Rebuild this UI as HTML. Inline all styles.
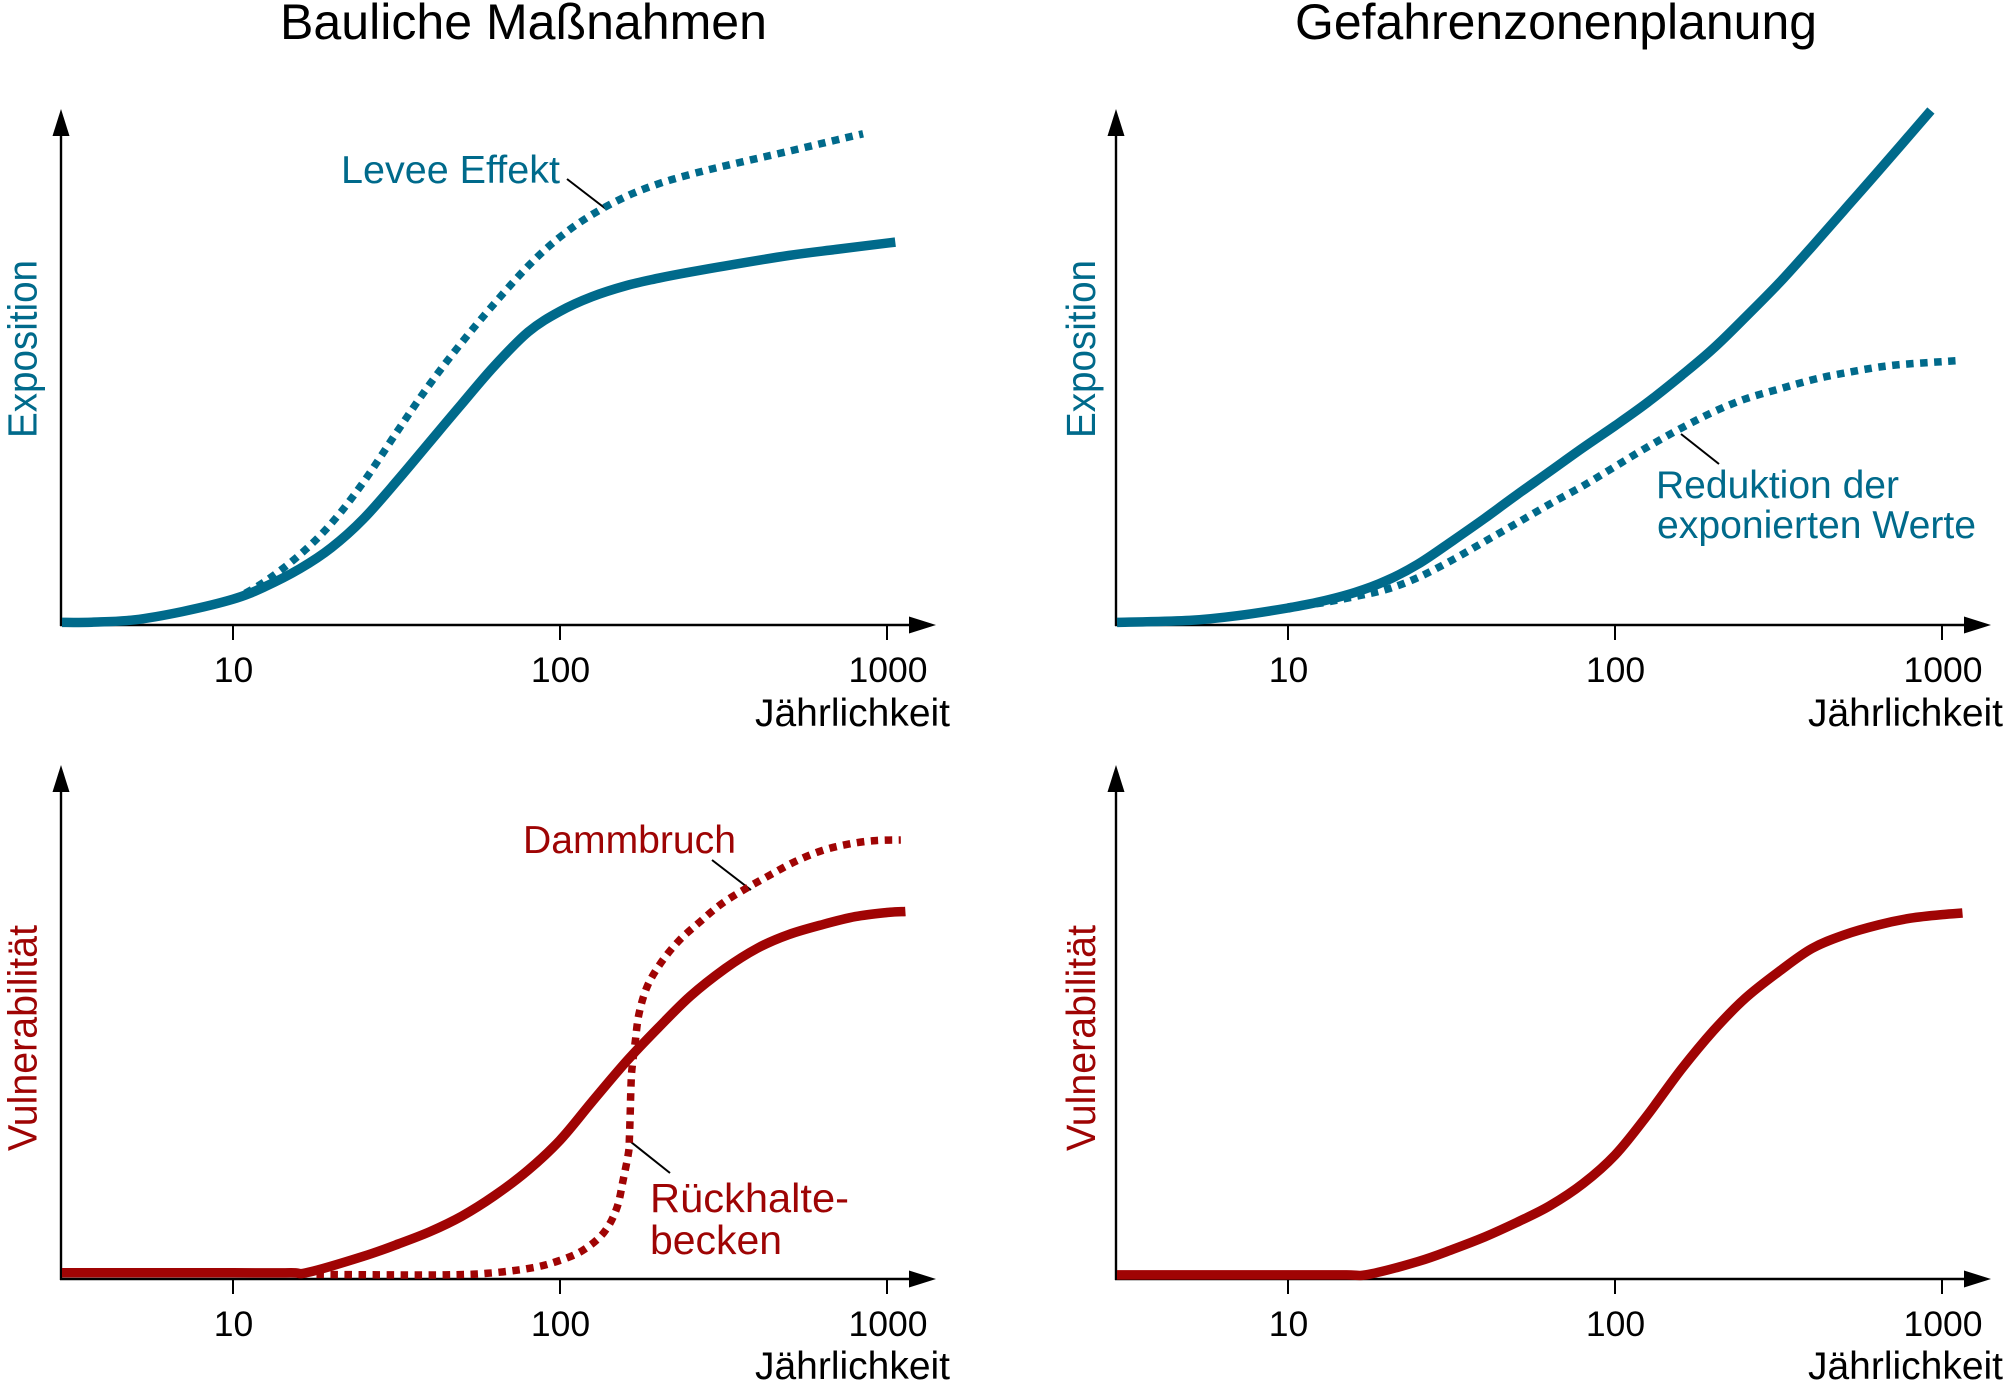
<!DOCTYPE html>
<html lang="de">
<head>
<meta charset="utf-8">
<title>Bauliche Maßnahmen und Gefahrenzonenplanung</title>
<style>
  html, body { margin: 0; padding: 0; background: #fff; }
  svg { display: block; }
  text { font-family: "Liberation Sans", sans-serif; }
  .title { font-size: 50px; fill: #000; }
  .tick { font-size: 35.5px; fill: #000; text-anchor: middle; }
  .xlab { font-size: 39px; fill: #000; }
  .teal { fill: #006a8b; font-size: 39px; }
  .red { fill: #9e0404; font-size: 39px; }
  .big { font-size: 41px; }
  .leader { stroke: #000; stroke-width: 2; fill: none; }
</style>
</head>
<body>
<svg id="chart" width="2008" height="1387" viewBox="0 0 2008 1387" xmlns="http://www.w3.org/2000/svg">
  <text class="title" x="280" y="39" textLength="487" lengthAdjust="spacingAndGlyphs">Bauliche Maßnahmen</text>
  <text class="title" x="1295" y="39" textLength="522" lengthAdjust="spacingAndGlyphs">Gefahrenzonenplanung</text>

  <text class="teal big" transform="translate(36.5,438) rotate(-90)" textLength="178" lengthAdjust="spacingAndGlyphs">Exposition</text>
  <text class="teal big" transform="translate(1095,438) rotate(-90)" textLength="178" lengthAdjust="spacingAndGlyphs">Exposition</text>
  <text class="red big" transform="translate(36.5,1151) rotate(-90)" textLength="226" lengthAdjust="spacingAndGlyphs">Vulnerabilität</text>
  <text class="red big" transform="translate(1095,1151) rotate(-90)" textLength="226" lengthAdjust="spacingAndGlyphs">Vulnerabilität</text>

  <text class="xlab" x="755" y="726" textLength="195" lengthAdjust="spacingAndGlyphs">Jährlichkeit</text>
  <text class="xlab" x="1808" y="726" textLength="195" lengthAdjust="spacingAndGlyphs">Jährlichkeit</text>
  <text class="xlab" x="755" y="1379" textLength="195" lengthAdjust="spacingAndGlyphs">Jährlichkeit</text>
  <text class="xlab" x="1808" y="1379" textLength="195" lengthAdjust="spacingAndGlyphs">Jährlichkeit</text>

  <text class="teal" x="341" y="183" textLength="219" lengthAdjust="spacingAndGlyphs">Levee Effekt</text>
  <text class="teal" x="1656" y="498" textLength="243" lengthAdjust="spacingAndGlyphs">Reduktion der</text>
  <text class="teal" x="1657" y="538" textLength="319" lengthAdjust="spacingAndGlyphs">exponierten Werte</text>
  <text class="red" x="523" y="853" textLength="213" lengthAdjust="spacingAndGlyphs">Dammbruch</text>
  <text class="red big" x="650" y="1212" textLength="199" lengthAdjust="spacingAndGlyphs">Rückhalte-</text>
  <text class="red big" x="650" y="1254" textLength="132" lengthAdjust="spacingAndGlyphs">becken</text>

  <line class="leader" x1="567" y1="179" x2="606" y2="209"/>
  <line class="leader" x1="1681" y1="434" x2="1719" y2="464"/>
  <line class="leader" x1="712" y1="860" x2="751" y2="890"/>
  <line class="leader" x1="631" y1="1142" x2="670" y2="1173"/>
</svg>
<script>
const tickValues = [10, 100, 1000];
const tickLabels = ["10", "100", "1000"];

// Top-left: Exposition, Bauliche Maßnahmen
const exposureBaseT = [3, 3.7, 5, 7, 10, 12.5, 16, 20, 25, 32, 40, 50, 63, 80, 100, 125, 160, 200, 250, 320, 500, 700, 1060];
const exposureBaseV = [0.5, 0.55, 1.0, 2.6, 5.0, 7.4, 10.9, 15, 20.5, 28.2, 35.5, 42.8, 50.2, 56.8, 60.8, 63.6, 65.8, 67.2, 68.4, 69.6, 71.6, 72.8, 74.2];
const leveeT = [10, 12.5, 16, 20, 25, 32, 40, 50, 63, 80, 100, 125, 160, 200, 250, 320, 500, 700, 845];
const leveeV = [4.85, 8.4, 13.6, 19.7, 27.6, 37.8, 46.7, 54.7, 62.3, 69.6, 75.2, 79.5, 83.1, 85.5, 87.3, 89, 91.8, 94, 95.2];

// Top-right: Exposition, Gefahrenzonenplanung
const exposureZoneT = [3, 5, 7, 10, 12.5, 16, 20, 25, 32, 40, 50, 63, 80, 100, 125, 160, 200, 250, 320, 400, 500, 640, 925];
const exposureZoneV = [0.5, 0.9, 1.8, 3.3, 4.5, 6.3, 8.6, 11.8, 16.4, 20.7, 25.2, 29.7, 34.4, 38.6, 43, 48.4, 53.6, 59.6, 66.5, 73.3, 80.3, 88, 99.7];
const reductionT = [10, 12.5, 16, 20, 25, 32, 40, 50, 63, 80, 100, 125, 160, 200, 250, 320, 400, 500, 700, 1100];
const reductionV = [3.5, 4.2, 5.5, 6.9, 9.2, 12.7, 16.2, 19.7, 23.4, 27, 30.7, 34.4, 38.2, 41.3, 43.8, 45.8, 47.5, 48.8, 50.3, 51.2];

// Bottom-left: Vulnerabilität, Bauliche Maßnahmen
const vulnBaseT = [3, 10, 15, 17, 25, 32, 40, 50, 63, 80, 100, 125, 160, 200, 250, 320, 400, 500, 640, 800, 1000, 1138];
const vulnBaseV = [1.2, 1.2, 1.2, 1.3, 4.4, 6.8, 9.2, 12.2, 16.2, 21.2, 27, 34.4, 42.4, 48.9, 55, 60.4, 64.3, 67, 69, 70.5, 71.3, 71.5];
const breachT = [18, 30, 44.5, 60, 81, 97.7, 117, 136, 149, 156, 162, 163, 164, 165, 166, 170, 174.5, 185, 204, 231, 268, 312, 371, 439, 523, 630, 760, 922, 1102];
const breachV = [0.9, 0.8, 0.8, 1.1, 2.1, 3.4, 5.5, 9, 13.7, 19.3, 24.6, 27.4, 32.8, 38.2, 41, 46.4, 51.7, 57, 61.6, 65.8, 69.5, 73, 76, 78.6, 81.2, 83.3, 84.6, 85.3, 85.4];

// Bottom-right: Vulnerabilität, Gefahrenzonenplanung
const vulnZoneT = [3, 10, 15, 17.6, 25, 32, 40, 50, 63, 80, 100, 125, 160, 200, 250, 320, 400, 500, 640, 800, 1000, 1155];
const vulnZoneV = [0.8, 0.8, 0.8, 0.9, 3.4, 5.8, 8.2, 11, 14.2, 18.6, 24.1, 31.7, 40.9, 48.3, 54.6, 60, 64.3, 66.9, 68.9, 70.2, 70.9, 71.2];

const NS = "http://www.w3.org/2000/svg";
const chart = document.getElementById("chart");
const TEAL = "#006a8b";
const RED = "#a00404";
const DECADE = 327;

function svgEl(tag) {
  return document.createElementNS(NS, tag);
}

function makePanel(left, tenX, axisY, topY, arrowX, labelY) {
  return {
    left, tenX, axisY, topY, arrowX, labelY,
    x: function (t) { return tenX + (Math.log10(t) - 1) * DECADE; },
    y: function (v) { return axisY - (v / 100) * (axisY - topY); }
  };
}

function smoothPath(pts) {
  let d = "M" + pts[0][0].toFixed(1) + "," + pts[0][1].toFixed(1);
  for (let i = 0; i < pts.length - 1; i++) {
    const p0 = pts[Math.max(i - 1, 0)];
    const p1 = pts[i];
    const p2 = pts[i + 1];
    const p3 = pts[Math.min(i + 2, pts.length - 1)];
    const c1x = p1[0] + (p2[0] - p0[0]) / 6;
    const c1y = p1[1] + (p2[1] - p0[1]) / 6;
    const c2x = p2[0] - (p3[0] - p1[0]) / 6;
    const c2y = p2[1] - (p3[1] - p1[1]) / 6;
    d += "C" + c1x.toFixed(1) + "," + c1y.toFixed(1) + " " + c2x.toFixed(1) + "," + c2y.toFixed(1) + " " + p2[0].toFixed(1) + "," + p2[1].toFixed(1);
  }
  return d;
}

function drawAxes(p, prefix) {
  const yAxis = svgEl("line");
  
  
  yAxis.setAttribute("x1", p.left); yAxis.setAttribute("x2", p.left);
  yAxis.setAttribute("y1", p.axisY + 1); yAxis.setAttribute("y2", p.topY + 20);
  yAxis.setAttribute("stroke", "#000"); yAxis.setAttribute("stroke-width", "2.4");
  chart.appendChild(yAxis);

  const yHead = svgEl("polygon");
  
  
  yHead.setAttribute("points", p.left + "," + p.topY + " " + (p.left - 8.5) + "," + (p.topY + 27) + " " + (p.left + 8.5) + "," + (p.topY + 27));
  yHead.setAttribute("fill", "#000");
  chart.appendChild(yHead);

  const xAxis = svgEl("line");
  
  
  xAxis.setAttribute("x1", p.left - 1); xAxis.setAttribute("x2", p.arrowX - 20);
  xAxis.setAttribute("y1", p.axisY); xAxis.setAttribute("y2", p.axisY);
  xAxis.setAttribute("stroke", "#000"); xAxis.setAttribute("stroke-width", "2.4");
  chart.appendChild(xAxis);

  const xHead = svgEl("polygon");
  
  
  xHead.setAttribute("points", p.arrowX + "," + p.axisY + " " + (p.arrowX - 27) + "," + (p.axisY - 8.5) + " " + (p.arrowX - 27) + "," + (p.axisY + 8.5));
  xHead.setAttribute("fill", "#000");
  chart.appendChild(xHead);

  tickValues.forEach(function (t, i) {
    const mark = svgEl("line");
    
    
    mark.setAttribute("x1", p.x(t)); mark.setAttribute("x2", p.x(t));
    mark.setAttribute("y1", p.axisY); mark.setAttribute("y2", p.axisY + 15);
    mark.setAttribute("stroke", "#000"); mark.setAttribute("stroke-width", "2");
    chart.appendChild(mark);

    const label = svgEl("text");
    
    
    label.setAttribute("class", "tick");
    label.setAttribute("x", p.x(t) + (i === 2 ? 1 : 0.5));
    label.setAttribute("y", p.labelY);
    label.textContent = tickLabels[i];
    chart.appendChild(label);
  });
}

function drawCurve(p, ts, vs, color, dotted, name) {
  const pts = ts.map(function (t, i) { return [p.x(t), p.y(vs[i])]; });
  const path = svgEl("path");
  
  
  path.setAttribute("d", smoothPath(pts));
  path.setAttribute("fill", "none");
  path.setAttribute("stroke", color);
  path.setAttribute("stroke-width", dotted ? "7.5" : "9.5");
  path.setAttribute("stroke-linejoin", "round");
  if (dotted) path.setAttribute("stroke-dasharray", "7.5 6.5");
  chart.appendChild(path);
}

const panelA = makePanel(61, 233, 625, 109, 936, 682);
const panelB = makePanel(1116, 1288, 625, 109, 1991, 682);
const panelC = makePanel(61, 233, 1279, 765, 936, 1336);
const panelD = makePanel(1116, 1288, 1279, 765, 1991, 1336);

drawAxes(panelA, "top-left");
drawAxes(panelB, "top-right");
drawAxes(panelC, "bottom-left");
drawAxes(panelD, "bottom-right");

drawCurve(panelA, leveeT, leveeV, TEAL, true, "levee-effect-dotted-curve");
drawCurve(panelA, exposureBaseT, exposureBaseV, TEAL, false, "exposure-structural-curve");
drawCurve(panelB, reductionT, reductionV, TEAL, true, "reduced-exposure-dotted-curve");
drawCurve(panelB, exposureZoneT, exposureZoneV, TEAL, false, "exposure-zoning-curve");
drawCurve(panelC, breachT, breachV, RED, true, "breach-retention-dotted-curve");
drawCurve(panelC, vulnBaseT, vulnBaseV, RED, false, "vulnerability-structural-curve");
drawCurve(panelD, vulnZoneT, vulnZoneV, RED, false, "vulnerability-zoning-curve");
</script>
</body>
</html>
